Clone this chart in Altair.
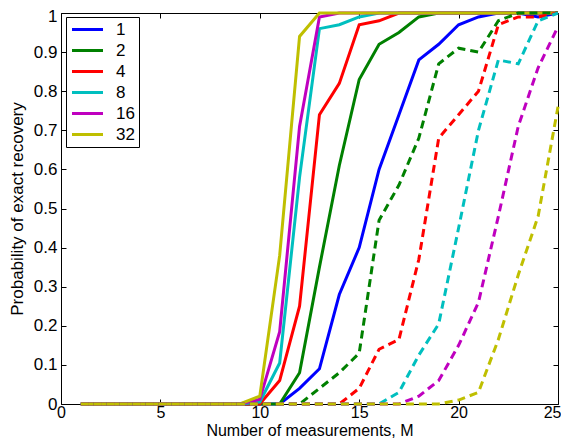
import altair as alt
import pandas as pd

M = list(range(1, 26))
K_LABELS = ["1", "2", "4", "8", "16", "32"]
COLORS = ["#0000ff", "#008000", "#ff0000", "#00bfbf", "#bf00bf", "#bfbf00"]

# solid curves (legend series)
solid_1 = [0] * 11 + [0.04, 0.09, 0.28, 0.40, 0.60, 0.74, 0.88, 0.92, 0.97, 0.99, 1.0, 1.0, 0.99, 1.0]
solid_2 = [0] * 11 + [0.08, 0.35, 0.61, 0.83, 0.92, 0.95, 0.99, 1, 1, 1, 1, 1, 1, 1]
solid_4 = [0] * 10 + [0.06, 0.25, 0.74, 0.82, 0.97, 0.98, 1, 1, 1, 1, 1, 1, 1, 1, 1]
solid_8 = [0] * 9 + [0.005, 0.105, 0.58, 0.96, 0.97, 0.99, 1, 1, 1, 1, 1, 1, 1, 1, 1, 1]
solid_16 = [0] * 9 + [0.012, 0.185, 0.71, 0.99, 1, 1, 1, 1, 1, 1, 1, 1, 1, 1, 1, 1]
solid_32 = [0] * 9 + [0.02, 0.38, 0.94, 1, 1, 1, 1, 1, 1, 1, 1, 1, 1, 1, 1, 1]

# dashed curves
dashed_2 = [0] * 12 + [0.04, 0.08, 0.13, 0.47, 0.56, 0.68, 0.87, 0.91, 0.90, 0.98, 1, 1, 1]
dashed_4 = [0] * 14 + [0.04, 0.14, 0.165, 0.37, 0.68, 0.74, 0.80, 0.97, 0.99, 0.99, 1.0]
dashed_8 = [0] * 16 + [0.03, 0.125, 0.205, 0.45, 0.70, 0.88, 0.87, 0.98, 1.0]
dashed_16 = [0] * 17 + [0.02, 0.06, 0.15, 0.26, 0.48, 0.71, 0.86, 0.965]
dashed_32 = [0] * 19 + [0.01, 0.03, 0.165, 0.33, 0.48, 0.76]

X_TICKS = [0, 5, 10, 15, 20, 25]
Y_TICKS = [0, 0.1, 0.2, 0.3, 0.4, 0.5, 0.6, 0.7, 0.8, 0.9, 1]

solid = {"1": solid_1, "2": solid_2, "4": solid_4, "8": solid_8, "16": solid_16, "32": solid_32}
dashed = {"2": dashed_2, "4": dashed_4, "8": dashed_8, "16": dashed_16, "32": dashed_32}

rows = []
for k, vals in solid.items():
    for m, p in zip(M, vals):
        rows.append({"M": m, "P": p, "K": k, "style": "solid"})
for k, vals in dashed.items():
    for m, p in zip(M, vals):
        rows.append({"M": m, "P": p, "K": k, "style": "dashed"})
df = pd.DataFrame(rows)

W, H = 497, 391
FONT = "Liberation Sans"
FS = 17

xs = alt.Scale(domain=[0, 25], nice=False, zero=False)
ys = alt.Scale(domain=[0, 1], nice=False)
cs = alt.Scale(domain=K_LABELS, range=COLORS)

main_x = alt.Axis(orient="bottom", values=X_TICKS, ticks=False, domain=False, grid=False,
                  labelFontSize=16, labelPadding=0, labelFlush=False,
                  labelAlign={"condition": {"test": "datum.value === 25", "value": "right"},
                              "value": "center"},
                  labelOffset={"condition": {"test": "datum.value === 25", "value": 3},
                               "value": 0},
                  title="Number of measurements, M", titleFontSize=16,
                  titleFontWeight="normal", titleBaseline="bottom", titleY=34)
main_y = alt.Axis(orient="left", values=Y_TICKS, ticks=False, domain=False, grid=False,
                  labelFontSize=FS, labelPadding=4, labelExpr="'' + datum.value",
                  labelOffset={"condition": {"test": "datum.value === 1", "value": 3},
                               "value": 0},
                  title="Probability of exact recovery", titleFontSize=FS,
                  titleFontWeight="normal", titlePadding=7)

tick_common = dict(labels=False, domain=False, grid=False, ticks=True, tickSize=5,
                   tickColor="black", tickWidth=1, title=None)
tx_bottom = alt.Axis(orient="top", offset=-H, values=X_TICKS, **tick_common)
tx_top = alt.Axis(orient="bottom", offset=-H, values=X_TICKS, **tick_common)
ty_left = alt.Axis(orient="right", offset=-W, values=Y_TICKS, **tick_common)
ty_right = alt.Axis(orient="left", offset=-W, values=Y_TICKS, **tick_common)

base = alt.Chart(df)

solid_layer = base.transform_filter(alt.datum.style == "solid").mark_line(
    strokeWidth=3
).encode(
    x=alt.X("M:Q", scale=xs, axis=main_x),
    y=alt.Y("P:Q", scale=ys, axis=main_y),
    color=alt.Color("K:N", scale=cs, sort=K_LABELS,
                    legend=alt.Legend(title=None, orient="none", legendX=5, legendY=4,
                                      symbolType="M-3.1,0H3.1", symbolSize=100,
                                      symbolStrokeWidth=3, symbolOffset=9,
                                      symbolFillColor="transparent",
                                      labelFontSize=FS, labelOffset=20,
                                      strokeColor="black", fillColor="white",
                                      padding=4, rowPadding=3)),
)

dashed_layer = base.transform_filter(alt.datum.style == "dashed").mark_line(
    strokeWidth=3, strokeDash=[8, 5]
).encode(
    x=alt.X("M:Q", scale=xs, axis=tx_bottom),
    y=alt.Y("P:Q", scale=ys, axis=ty_left),
    color=alt.Color("K:N", scale=cs, sort=K_LABELS),
)

ghost = base.transform_filter(alt.datum.style == "solid").mark_line(opacity=0).encode(
    x=alt.X("M:Q", scale=xs, axis=tx_top),
    y=alt.Y("P:Q", scale=ys, axis=ty_right),
    detail="K:N",
)

chart = alt.layer(solid_layer, dashed_layer, ghost).resolve_scale(
    x="independent", y="independent"
).properties(
    width=W, height=H,
    autosize=alt.AutoSizeParams(type="none"),
    padding={"left": 53, "top": 5, "right": 3, "bottom": 34},
    background="white",
).configure_view(
    stroke="black", strokeWidth=1
).configure_axis(
    labelFont=FONT, titleFont=FONT, labelColor="black", titleColor="black"
).configure_legend(
    labelFont=FONT, labelColor="black"
)

chart.save("out.html", embed_options={"renderer": "svg", "actions": False})
